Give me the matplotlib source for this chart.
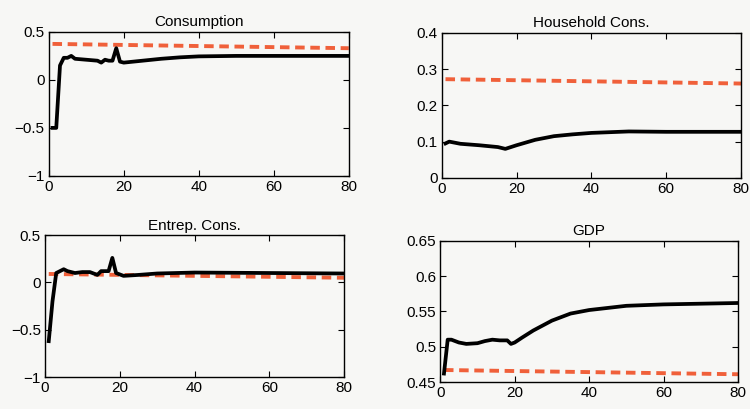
import matplotlib
matplotlib.use("Agg")
import matplotlib.pyplot as plt

plt.rcParams['font.family'] = ['Liberation Sans', 'DejaVu Sans']

# ---- data ----
cons_x = [1, 2, 3, 4, 5, 6, 7, 10, 13, 14, 15, 16, 17, 18, 19, 20, 25, 30, 35, 40, 50, 80]
cons_y = [-0.5, -0.5, 0.15, 0.23, 0.23, 0.25, 0.22, 0.21, 0.2, 0.18, 0.21, 0.2, 0.2, 0.33, 0.19, 0.18, 0.2, 0.22, 0.235, 0.245, 0.25, 0.25]
cons_ref_x = [1, 80]
cons_ref_y = [0.375, 0.33]

hh_x = [1, 2, 3, 5, 10, 15, 17, 20, 25, 30, 35, 40, 50, 60, 80]
hh_y = [0.095, 0.1, 0.098, 0.094, 0.09, 0.085, 0.08, 0.09, 0.105, 0.115, 0.12, 0.124, 0.128, 0.127, 0.127]
hh_ref_x = [1, 80]
hh_ref_y = [0.272, 0.26]

ent_x = [1, 2, 3, 4, 5, 6, 8, 10, 12, 14, 15, 17, 18, 19, 21, 25, 30, 40, 60, 80]
ent_y = [-0.62, -0.2, 0.1, 0.12, 0.14, 0.12, 0.1, 0.11, 0.11, 0.08, 0.12, 0.12, 0.26, 0.1, 0.07, 0.08, 0.095, 0.105, 0.1, 0.095]
ent_ref_x = [1, 80]
ent_ref_y = [0.09, 0.05]

gdp_x = [1, 2, 3, 5, 7, 10, 12, 14, 16, 18, 19, 20, 22, 25, 30, 35, 40, 45, 50, 60, 70, 80]
gdp_y = [0.462, 0.51, 0.51, 0.506, 0.504, 0.505, 0.508, 0.51, 0.509, 0.509, 0.504, 0.506, 0.513, 0.523, 0.537, 0.547, 0.552, 0.555, 0.558, 0.56, 0.561, 0.562]
gdp_ref_x = [1, 80]
gdp_ref_y = [0.467, 0.461]

titles = ["Consumption", "Household Cons.", "Entrep. Cons.", "GDP"]
x_ticks = [0, 20, 40, 60, 80]
y_ticks = [[-1, -0.5, 0, 0.5], [0, 0.1, 0.2, 0.3, 0.4], [-1, -0.5, 0, 0.5], [0.45, 0.5, 0.55, 0.6, 0.65]]
y_labels = [["\u22121", "\u22120.5", "0", "0.5"], ["0", "0.1", "0.2", "0.3", "0.4"],
            ["\u22121", "\u22120.5", "0", "0.5"], ["0.45", "0.5", "0.55", "0.6", "0.65"]]
y_lims = [(-1, 0.5), (0, 0.4), (-1, 0.5), (0.45, 0.65)]

series = [(cons_x, cons_y, cons_ref_x, cons_ref_y),
          (hh_x, hh_y, hh_ref_x, hh_ref_y),
          (ent_x, ent_y, ent_ref_x, ent_ref_y),
          (gdp_x, gdp_y, gdp_ref_x, gdp_ref_y)]

bg = '#f7f7f5'
fig = plt.figure(figsize=(7.5, 4.09), dpi=100, facecolor=bg)
rects = [[0.065, 0.570, 0.400, 0.352],
         [0.589, 0.565, 0.399, 0.355],
         [0.060, 0.078, 0.399, 0.347],
         [0.587, 0.066, 0.397, 0.345]]

red = '#f0603a'
for i in range(4):
    ax = fig.add_axes(rects[i], facecolor=bg)
    x, y, rx, ry = series[i]
    ax.plot(rx, ry, color=red, lw=2.8, dashes=(2.45, 1.45), zorder=2)
    ax.plot(x, y, color='black', lw=2.7, zorder=3, solid_joinstyle='round')
    ax.set_xlim(0, 80)
    ax.set_ylim(*y_lims[i])
    ax.set_xticks(x_ticks)
    ax.set_xticklabels([str(t) for t in x_ticks])
    ax.set_yticks(y_ticks[i])
    ax.set_yticklabels(y_labels[i])
    ax.tick_params(direction='in', top=True, right=True, length=4, width=0.8,
                   labelsize=11, pad=3)
    for s in ax.spines.values():
        s.set_linewidth(1.0)
    ax.set_title(titles[i], fontsize=11, pad=4)

fig.savefig('out.png', dpi=100, facecolor=bg)
